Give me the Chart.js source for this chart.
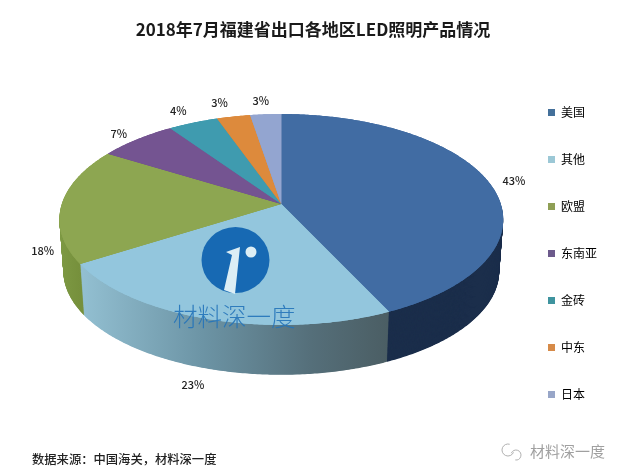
<!DOCTYPE html>
<html>
<head>
<meta charset="utf-8">
<style>
  html, body { margin: 0; padding: 0; background: #fff; }
  #wrap { width: 630px; height: 470px; }
</style>
<script src="https://cdn.jsdelivr.net/npm/chart.js@4"></script>
</head>
<body>
<div id="wrap"><canvas id="grafica" width="630" height="470"></canvas></div>
<script>
const regiones = ["美国", "其他", "欧盟", "东南亚", "金砖", "中东", "日本"];
const valores = [43.0, 23.0, 17.8, 6.6, 4.2, 2.8, 2.6];

const colores = ["#416CA3", "#93C6DD", "#8DA651", "#745491", "#3F9BAF", "#DD8A3C", "#93A5D0"];
const coloresLeyenda = ["#44709A", "#9CC8D6", "#8F9F55", "#6C5A8C", "#3F949F", "#D68A48", "#98A6C8"];

// Empuje de cada etiqueta de porcentaje, en pixeles, desde el borde de su sector
const empujeEtiqueta = [[25, -1], [-17, 65], [-19, 46], [-18, -6], [-15, -12], [-14, -14], [-5, -13]];

// Perspectiva del disco: apice, semiejes y fuerza de la fuga
const apiceX = 281.3, apiceY = 204, ejeX = 219.5, ejeY = 103.2, fuga = 0.147;
const grosor = 52;
const FUENTE = '"Noto Sans CJK SC", "Noto Sans", sans-serif';

function proyectar(u, v, prof) {
  const w = 1 - fuga * v;
  const s = 1 - 0.018 * prof / grosor;
  return [apiceX + s * ejeX * u / w, apiceY + s * ejeY * v / w + prof];
}

// Reemplaza arc/lineTo del contexto para que el sector salga en perspectiva
function conPerspectiva(ctx, el, prof, fn) {
  const lineaReal = ctx.lineTo.bind(ctx);
  ctx.lineTo = (x, y) => {
    const p = proyectar((x - el.x) / el.outerRadius, (y - el.y) / el.outerRadius, prof);
    lineaReal(p[0], p[1]);
  };
  ctx.moveTo = ctx.lineTo;
  ctx.arc = (x, y, r, ini, fin) => {
    const pasos = Math.max(1, Math.ceil(Math.abs(fin - ini) / 0.01));
    for (let i = 0; i <= pasos; i++) {
      const a = ini + (fin - ini) * i / pasos;
      ctx.lineTo(x + r * Math.cos(a), y + r * Math.sin(a));
    }
  };
  fn();
  delete ctx.lineTo;
  delete ctx.moveTo;
  delete ctx.arc;
}

const tarta3d = {
  id: "tarta3d",
  beforeDatasetDraw(chart) {
    const ctx = chart.ctx;
    const arcos = chart.getDatasetMeta(0).data;

    const lateralOtros = ctx.createLinearGradient(80, 0, 387, 0);
    lateralOtros.addColorStop(0, "#93C0D2");
    lateralOtros.addColorStop(0.4, "#6C94A5");
    lateralOtros.addColorStop(0.75, "#556F7A");
    lateralOtros.addColorStop(1, "#4B5E64");
    const lateralEuropa = ctx.createLinearGradient(58, 0, 80, 0);
    lateralEuropa.addColorStop(0, "#7E9A44");
    lateralEuropa.addColorStop(1, "#76903C");
    const laterales = ["#1B2E4B", lateralOtros, lateralEuropa, "#54396C", "#2C7080", "#A86528", "#6B7AA0"];

    const rellenoReal = ctx.fill.bind(ctx);

    // Pared lateral: capas de abajo hacia arriba
    for (let d = grosor; d >= 0.5; d -= 0.5) {
      arcos.forEach((el, i) => {
        ctx.fill = () => { ctx.fillStyle = laterales[i]; rellenoReal(); };
        conPerspectiva(ctx, el, d, () => el.draw(ctx, chart.chartArea));
      });
    }

    // Cara superior, dos pasadas para tapar la costura entre sectores
    ctx.fill = () => { rellenoReal(); rellenoReal(); };
    arcos.forEach(el => {
      conPerspectiva(ctx, el, 0, () => el.draw(ctx, chart.chartArea));
    });
    delete ctx.fill;

    // Etiquetas de porcentaje
    const total = valores.reduce((a, b) => a + b, 0);
    ctx.save();
    ctx.font = "500 11px " + FUENTE;
    ctx.fillStyle = "#222";
    ctx.textAlign = "center";
    ctx.textBaseline = "middle";
    arcos.forEach((el, i) => {
      const medio = (el.startAngle + el.endAngle) / 2;
      const p = proyectar(Math.cos(medio), Math.sin(medio), 0);
      const texto = Math.round(valores[i] / total * 100) + "%";
      ctx.fillText(texto, p[0] + empujeEtiqueta[i][0], p[1] + empujeEtiqueta[i][1]);
    });
    ctx.restore();
    return false;
  },
  afterDraw(chart) {
    const ctx = chart.ctx;
    ctx.save();

    // Logo de la marca de agua
    ctx.fillStyle = "#1769B3";
    ctx.beginPath();
    ctx.ellipse(235.5, 260, 34, 33, 0, 0, Math.PI * 2);
    ctx.fill();
    ctx.fillStyle = "#DCEEF5";
    ctx.beginPath();
    ctx.moveTo(226, 252);
    ctx.lineTo(240, 247);
    ctx.lineTo(235, 294);
    ctx.lineTo(224, 290);
    ctx.lineTo(232, 255);
    ctx.closePath();
    ctx.fill();
    ctx.beginPath();
    ctx.arc(251, 252, 5.5, 0, Math.PI * 2);
    ctx.fill();

    ctx.fillStyle = "rgba(35,115,185,0.9)";
    ctx.font = "300 24.5px " + FUENTE;
    ctx.textAlign = "left";
    ctx.textBaseline = "middle";
    ctx.fillText("材料深一度", 173, 317);

    // Fuente de los datos
    ctx.fillStyle = "#222";
    ctx.font = "500 12.3px " + FUENTE;
    ctx.fillText("数据来源：中国海关，材料深一度", 32, 459);

    // Sello de WeChat
    ctx.fillStyle = "#a0a0a0";
    ctx.font = "15px " + FUENTE;
    ctx.fillText("材料深一度", 530, 451);
    ctx.strokeStyle = "#b0b0b0";
    ctx.lineWidth = 1;
    ctx.beginPath();
    ctx.arc(508, 450, 6, 0.4, 5);
    ctx.stroke();
    ctx.beginPath();
    ctx.arc(516, 455, 5, 3.5, 8);
    ctx.stroke();
    ctx.restore();
  }
};

const ctx = document.getElementById("grafica").getContext("2d");
new Chart(ctx, {
  type: "pie",
  data: {
    labels: regiones,
    datasets: [{
      data: valores,
      backgroundColor: colores,
      borderWidth: 0,
      clip: false
    }]
  },
  options: {
    responsive: false,
    animation: false,
    layout: { padding: { top: 19, right: 23, bottom: 0, left: 19 } },
    plugins: {
      tooltip: { enabled: false },
      title: {
        display: true,
        text: "2018年7月福建省出口各地区LED照明产品情况",
        color: "#1a1a1a",
        font: { family: FUENTE, size: 17, weight: "bold" },
        padding: { top: 0, bottom: 32 }
      },
      legend: {
        position: "right",
        align: "start",
        fullSize: false,
        labels: {
          boxWidth: 7,
          boxHeight: 7,
          padding: 35,
          color: "#444",
          font: { family: FUENTE, size: 12 },
          generateLabels: () => regiones.map((r, i) => ({
            text: r, fillStyle: coloresLeyenda[i], strokeStyle: coloresLeyenda[i], lineWidth: 0, index: i
          }))
        }
      }
    }
  },
  plugins: [tarta3d]
});
</script>
</body>
</html>
